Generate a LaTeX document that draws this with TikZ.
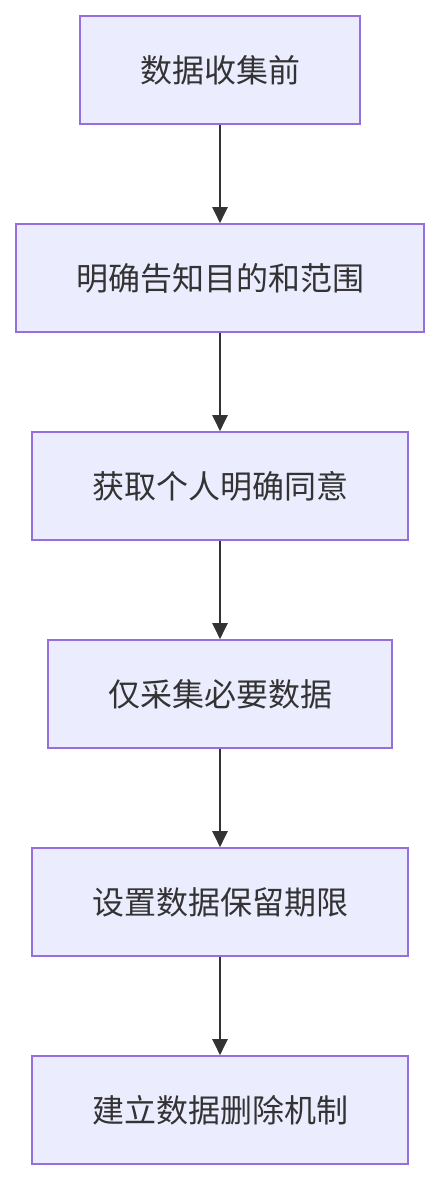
\documentclass[tikz,border=0pt]{standalone}
\usepackage{fontspec}
\setmainfont{Noto Sans CJK SC}
\usetikzlibrary{arrows.meta}
\definecolor{boxfill}{HTML}{ECECFF}
\definecolor{boxline}{HTML}{9370DB}
\definecolor{arrowc}{HTML}{333333}
\begin{document}
\begin{tikzpicture}[x=1pt,y=-1pt,
  stepbox/.style={draw=boxline,fill=boxfill,line width=1.6pt,inner sep=0pt,
    font=\fontsize{32}{36}\selectfont,text=arrowc},
  flow/.style={draw=arrowc,line width=2pt,-{Triangle[length=16pt,width=15pt]}}]
\useasboundingbox (0,0) rectangle (440,1180);
\node[stepbox,minimum width=280pt,minimum height=108pt] (a) at (220,70) {数据收集前};
\node[stepbox,minimum width=408pt,minimum height=108pt] (b) at (220,278) {明确告知目的和范围};
\node[stepbox,minimum width=376pt,minimum height=108pt] (c) at (220,486) {获取个人明确同意};
\node[stepbox,minimum width=344pt,minimum height=108pt] (d) at (220,694) {仅采集必要数据};
\node[stepbox,minimum width=376pt,minimum height=108pt] (e) at (220,902) {设置数据保留期限};
\node[stepbox,minimum width=376pt,minimum height=108pt] (f) at (220,1110) {建立数据删除机制};
\draw[flow] (a) -- (b);
\draw[flow] (b) -- (c);
\draw[flow] (c) -- (d);
\draw[flow] (d) -- (e);
\draw[flow] (e) -- (f);
\end{tikzpicture}
\end{document}
